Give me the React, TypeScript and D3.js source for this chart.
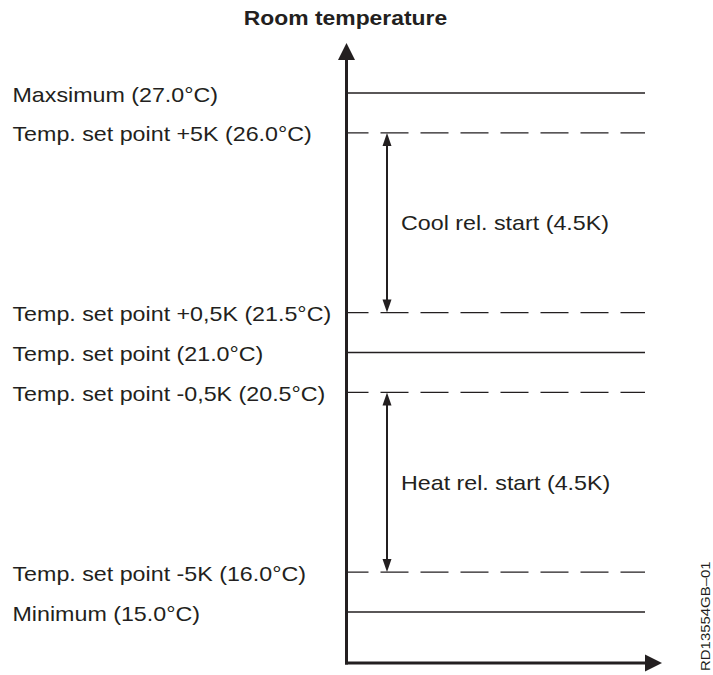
import React from "react";
import * as d3 from "d3";

const levelLabels = [
  "Maxsimum (27.0°C)",
  "Temp. set point +5K (26.0°C)",
  "Temp. set point +0,5K (21.5°C)",
  "Temp. set point (21.0°C)",
  "Temp. set point -0,5K (20.5°C)",
  "Temp. set point -5K (16.0°C)",
  "Minimum (15.0°C)",
];
const levelTemps = [27.0, 26.0, 21.5, 21.0, 20.5, 16.0, 15.0];
// schematic (non-linear) slot positions of each level on the axis
const levelSlots = [0, 1, 5.5, 6.5, 7.5, 12, 13];
const levelDashed = [false, true, true, false, true, true, false];

const spans = [
  { label: "Cool rel. start (4.5K)", from: 1, to: 2 },
  { label: "Heat rel. start (4.5K)", from: 4, to: 5 },
];

const title = "Room temperature";
const docId = "RD13554GB–01";

const W = 713;
const H = 675;
const FONT = "'Liberation Sans', Arial, Helvetica, sans-serif";
const INK = "#231f20";
const FS = 20.4;
const SX = 1.14;

export default function App() {
  const axisX = 346.5;
  const axisBottom = 663;
  const axisTop = 43;
  const axisRight = 662;
  const lineEnd = 645;
  const arrowX = 387;

  const y = d3.scaleLinear().domain([0, 13]).range([93, 612]);

  const arrowHead = (x: number, yTip: number, dir: number) => {
    const len = 13;
    const hw = 4.5;
    return `M${x},${yTip} L${x - hw},${yTip - dir * len} L${x + hw},${yTip - dir * len} Z`;
  };

  return (
    <svg width={W} height={H} style={{ display: "block", position: "absolute", left: 0, top: 0 }} fontFamily={FONT}>
      <rect width={W} height={H} fill="#fff" />
      <text
        transform={`translate(345.5,25) scale(1.09,1)`}
        textAnchor="middle"
        fontWeight="bold"
        fontSize={21}
        fill={INK}
      >
        {title}
      </text>

      {levelLabels.map((lab, i) => {
        const yy = y(levelSlots[i]);
        return (
          <g key={lab}>
            <line
              x1={axisX}
              x2={lineEnd}
              y1={yy}
              y2={yy}
              stroke={INK}
              strokeWidth={1.4}
              strokeDasharray={levelDashed[i] ? "28 12" : undefined}
              strokeDashoffset={levelDashed[i] ? 6 : undefined}
            />
            <text
              transform={`translate(12.5,${yy + 8.5}) scale(${SX},1)`}
              fontSize={FS}
              fill={INK}
              data-temp={levelTemps[i]}
            >
              {lab}
            </text>
          </g>
        );
      })}

      {spans.map((s) => {
        const y1 = y(levelSlots[s.from]);
        const y2 = y(levelSlots[s.to]);
        return (
          <g key={s.label}>
            <line x1={arrowX} x2={arrowX} y1={y1 + 10} y2={y2 - 10} stroke={INK} strokeWidth={2} />
            <path d={arrowHead(arrowX, y1, -1)} fill={INK} />
            <path d={arrowHead(arrowX, y2, 1)} fill={INK} />
            <text
              transform={`translate(401,${(y1 + y2) / 2 + 7.5}) scale(${SX},1)`}
              fontSize={FS}
              fill={INK}
            >
              {s.label}
            </text>
          </g>
        );
      })}

      {/* axes */}
      <line x1={axisX} x2={axisX} y1={axisBottom + 1.5} y2={axisTop + 12} stroke={INK} strokeWidth={3} />
      <path d={`M${axisX},${axisTop} L${axisX - 8.5},${axisTop + 17} L${axisX + 8.5},${axisTop + 17} Z`} fill={INK} />
      <line x1={axisX - 1.5} x2={axisRight - 12} y1={axisBottom} y2={axisBottom} stroke={INK} strokeWidth={3} />
      <path d={`M${axisRight},${axisBottom} L${axisRight - 17},${axisBottom - 8.5} L${axisRight - 17},${axisBottom + 8.5} Z`} fill={INK} />

      <text transform={`translate(709.5,671) rotate(-90) scale(1.15,1)`} fontSize={13} fill={INK} textAnchor="start">
        {docId}
      </text>
    </svg>
  );
}
